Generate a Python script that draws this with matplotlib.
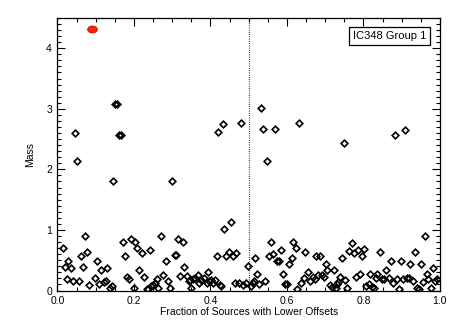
import numpy as np
import matplotlib
matplotlib.use("Agg")
import matplotlib.pyplot as plt
from matplotlib.ticker import MultipleLocator, FormatStrFormatter

# ==========================
# Datos
# ==========================
titulo_caja = "IC348 Group 1"
x_label = "Fraction of Sources with Lower Offsets"
y_label = "Mass"

# punto destacado (rojo)
x_rojo = [0.089]
y_rojo = [4.31]

# masas altas
x_alto = [0.046, 0.051, 0.150, 0.156, 0.160, 0.167, 0.146, 0.299, 0.420, 0.432,
          0.479, 0.531, 0.538, 0.569, 0.632, 0.548, 0.749, 0.882, 0.909, 0.453,
          0.436, 0.961]
y_alto = [2.60, 2.135, 3.08, 3.08, 2.56, 2.57, 1.80, 1.80, 2.625, 2.745,
          2.77, 3.02, 2.66, 2.66, 2.77, 2.135, 2.43, 2.565, 2.65, 1.13,
          1.015, 0.906]

# masas bajas, 0.0 - 0.25
x_izq = [0.014, 0.072, 0.028, 0.020, 0.035, 0.061, 0.078, 0.067, 0.024, 0.040,
         0.056, 0.082, 0.104, 0.114, 0.130, 0.098, 0.109, 0.122, 0.127, 0.137,
         0.142, 0.172, 0.177, 0.193, 0.203, 0.209, 0.220, 0.242, 0.182, 0.188,
         0.214, 0.225, 0.199, 0.233, 0.237, 0.245, 0.250, 0.255, 0.259]
y_izq = [0.697, 0.906, 0.488, 0.394, 0.367, 0.570, 0.631, 0.394, 0.185, 0.157,
         0.157, 0.091, 0.488, 0.339, 0.367, 0.200, 0.107, 0.145, 0.162, 0.036,
         0.074, 0.807, 0.575, 0.851, 0.807, 0.697, 0.615, 0.669, 0.228, 0.185,
         0.333, 0.220, 0.036, 0.030, 0.030, 0.070, 0.090, 0.120, 0.185]

# masas bajas, 0.25 - 0.5
x_centro = [0.272, 0.283, 0.277, 0.288, 0.294, 0.306, 0.311, 0.316, 0.327, 0.332,
            0.320, 0.338, 0.344, 0.346, 0.355, 0.368, 0.376, 0.384, 0.394, 0.390,
            0.402, 0.406, 0.425, 0.349, 0.370, 0.416, 0.441, 0.448, 0.458, 0.468,
            0.497, 0.427, 0.464, 0.475, 0.485, 0.493, 0.262, 0.360, 0.412, 0.396]
y_centro = [0.906, 0.488, 0.256, 0.162, 0.036, 0.587, 0.587, 0.851, 0.797, 0.390,
            0.239, 0.235, 0.152, 0.179, 0.190, 0.260, 0.180, 0.200, 0.306, 0.124,
            0.180, 0.124, 0.096, 0.041, 0.124, 0.570, 0.575, 0.631, 0.575, 0.625,
            0.410, 0.080, 0.130, 0.130, 0.090, 0.130, 0.040, 0.210, 0.170, 0.150]

# masas bajas, 0.5 - 0.75
x_der = [0.505, 0.510, 0.515, 0.521, 0.516, 0.527, 0.542, 0.558, 0.553, 0.563,
         0.574, 0.579, 0.584, 0.612, 0.606, 0.617, 0.623, 0.648, 0.675, 0.686,
         0.702, 0.706, 0.723, 0.743, 0.590, 0.596, 0.600, 0.627, 0.637, 0.644,
         0.654, 0.660, 0.667, 0.673, 0.680, 0.691, 0.697, 0.712, 0.718, 0.728,
         0.739, 0.734, 0.731]
y_der = [0.070, 0.120, 0.160, 0.268, 0.532, 0.100, 0.157, 0.807, 0.575, 0.598,
         0.488, 0.488, 0.669, 0.532, 0.438, 0.807, 0.697, 0.636, 0.575, 0.575,
         0.438, 0.339, 0.339, 0.532, 0.268, 0.107, 0.107, 0.025, 0.119, 0.200,
         0.300, 0.162, 0.218, 0.190, 0.256, 0.256, 0.218, 0.090, 0.063, 0.036,
         0.228, 0.145, 0.107]

# masas bajas, 0.75 - 1.0
x_final = [0.753, 0.758, 0.771, 0.762, 0.775, 0.787, 0.801, 0.797, 0.780, 0.791,
           0.816, 0.836, 0.843, 0.871, 0.897, 0.935, 0.923, 0.950, 0.981, 0.860,
           0.808, 0.815, 0.822, 0.827, 0.832, 0.848, 0.855, 0.867, 0.877, 0.888,
           0.903, 0.914, 0.919, 0.929, 0.941, 0.945, 0.956, 0.967, 0.970, 0.976,
           0.988, 0.993, 0.894]
y_final = [0.173, 0.036, 0.790, 0.645, 0.625, 0.665, 0.685, 0.575, 0.228, 0.268,
           0.268, 0.268, 0.631, 0.490, 0.490, 0.631, 0.438, 0.438, 0.367, 0.339,
           0.080, 0.110, 0.060, 0.036, 0.200, 0.185, 0.185, 0.200, 0.119, 0.185,
           0.185, 0.205, 0.200, 0.165, 0.036, 0.020, 0.140, 0.268, 0.190, 0.036,
           0.160, 0.190, 0.022]

x_diam = x_alto + x_izq + x_centro + x_der + x_final
y_diam = y_alto + y_izq + y_centro + y_der + y_final

# ==========================
# Figura
# ==========================
plt.rcParams["font.family"] = ["Liberation Sans", "DejaVu Sans"]

fig = plt.figure(figsize=(4.58, 3.27), dpi=100)
ax = fig.add_axes([0.1255, 0.1116, 0.835, 0.8334])

ax.plot(x_diam, y_diam, linestyle="none", marker="D", markersize=3.4,
        markerfacecolor="none", markeredgecolor="black", markeredgewidth=1.2)

# marcador eliptico para el punto rojo
t = np.linspace(0, 2 * np.pi, 40)
elipse = np.column_stack([np.cos(t), 0.72 * np.sin(t)])
ax.plot(x_rojo, y_rojo, linestyle="none", marker=elipse, markersize=7,
        markerfacecolor="#ff2000", markeredgecolor="#c01000", markeredgewidth=0.6)

# linea punteada en 0.5
ax.axvline(0.5, color="black", linestyle=(0, (0.6, 1.2)), linewidth=0.9)

ax.set_xlim(0, 1.0)
ax.set_ylim(0, 4.5)

ax.xaxis.set_major_locator(MultipleLocator(0.2))
ax.xaxis.set_minor_locator(MultipleLocator(0.05))
ax.yaxis.set_major_locator(MultipleLocator(1))
ax.yaxis.set_minor_locator(MultipleLocator(0.1))
ax.xaxis.set_major_formatter(FormatStrFormatter("%.1f"))
ax.yaxis.set_major_formatter(FormatStrFormatter("%d"))

ax.tick_params(which="both", direction="in", top=True, right=True,
               labelsize=7.5, width=0.8, pad=4)
ax.tick_params(which="major", length=5.5)
ax.tick_params(which="minor", length=2.8)
for s in ax.spines.values():
    s.set_linewidth(0.9)

ax.set_xlabel(x_label, fontsize=7.5, labelpad=1)
ax.set_ylabel(y_label, fontsize=7.5, labelpad=8)

# caja con el nombre del grupo
ax.text(0.772, 4.2, titulo_caja, fontsize=8, va="center", ha="left",
        bbox=dict(boxstyle="square,pad=0.35", facecolor="white",
                  edgecolor="black", linewidth=0.9))

fig.savefig("out.png", dpi=100)
